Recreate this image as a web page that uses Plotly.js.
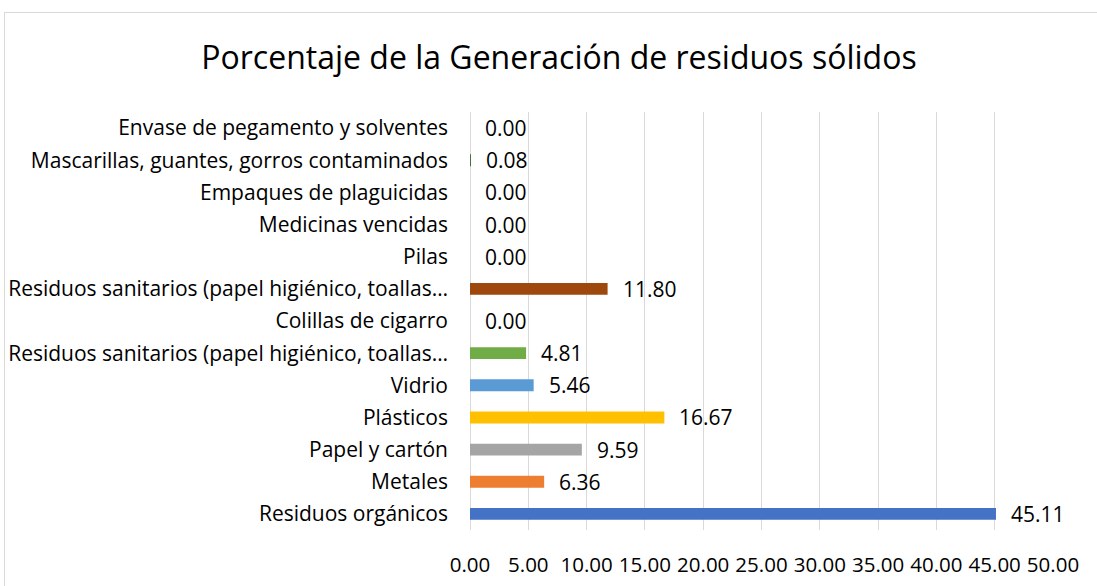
<!DOCTYPE html>
<html>
<head>
<meta charset="utf-8">
<script src="https://cdn.plot.ly/plotly-3.0.1.min.js"></script>
<style>
html,body{margin:0;padding:0;background:#fff;overflow:hidden;}
#wrap{position:absolute;left:4px;top:12px;width:1100px;height:580px;border:1px solid #d9d9d9;background:#fff;}
#chart{width:1100px;height:580px;}
</style>
</head>
<body>
<div id="wrap"><div id="chart"></div></div>
<script>
// Bottom to top
const categories = [
  "Residuos orgánicos",
  "Metales",
  "Papel y cartón",
  "Plásticos",
  "Vidrio",
  "Residuos sanitarios (papel higiénico, toallas…",
  "Colillas de cigarro",
  "Residuos sanitarios (papel higiénico, toallas…",
  "Pilas",
  "Medicinas vencidas",
  "Empaques de plaguicidas",
  "Mascarillas, guantes, gorros contaminados",
  "Envase de pegamento y solventes"
];
const values = [45.11, 6.36, 9.59, 16.67, 5.46, 4.81, 0.00, 11.80, 0.00, 0.00, 0.00, 0.08, 0.00];
const colors = ["#4472C4","#ED7D31","#A5A5A5","#FFC000","#5B9BD5","#70AD47","#264478","#9E480E","#636363","#997300","#255E91","#43682B","#698ED0"];
const xTicks = [0,5,10,15,20,25,30,35,40,45,50];
const xTickText = xTicks.map(v => v.toFixed(2));
const chartTitle = "Porcentaje de la Generación de residuos sólidos";

const FONT = "'Open Sans', sans-serif";
const positions = categories.map((c,i) => i);

const trace = {
  type: "bar",
  orientation: "h",
  x: values,
  y: positions,
  marker: {color: colors},
  hoverinfo: "x+text",
  showlegend: false
};

const annotations = values.map((v,i) => ({
  x: v, y: positions[i], xref: "x", yref: "y",
  text: v.toFixed(2), showarrow: false,
  xanchor: "left", yanchor: "middle", xshift: 13,
  font: {family: FONT, size: 21, color: "#000"}
}));

const layout = {
  width: 1100, height: 580,
  paper_bgcolor: "#fff", plot_bgcolor: "#fff",
  margin: {l: 465, r: 52, t: 99, b: 63},
  bargap: 0.63,
  title: {text: chartTitle, x: 0.5036, xref: "container", xanchor: "center",
          y: 0.922, yref: "container", yanchor: "middle",
          font: {family: FONT, size: 32, color: "#000"}},
  xaxis: {range: [0, 50], tickvals: xTicks, ticktext: xTickText,
          showgrid: true, gridcolor: "#d9d9d9", gridwidth: 1,
          zeroline: true, zerolinecolor: "#d9d9d9", zerolinewidth: 1,
          showline: false, ticks: "", ticklabelstandoff: 20,
          tickfont: {family: FONT, size: 20.5, color: "#000"}, fixedrange: true},
  yaxis: {range: [-0.5, 12.5], tickvals: positions, ticktext: categories,
          showgrid: false, zeroline: false, showline: false, ticks: "",
          ticklabelstandoff: 21,
          tickfont: {family: FONT, size: 21, color: "#000"}, fixedrange: true},
  annotations: annotations
};

Plotly.newPlot("chart", [trace], layout, {displayModeBar: false, staticPlot: true});
</script>
</body>
</html>
